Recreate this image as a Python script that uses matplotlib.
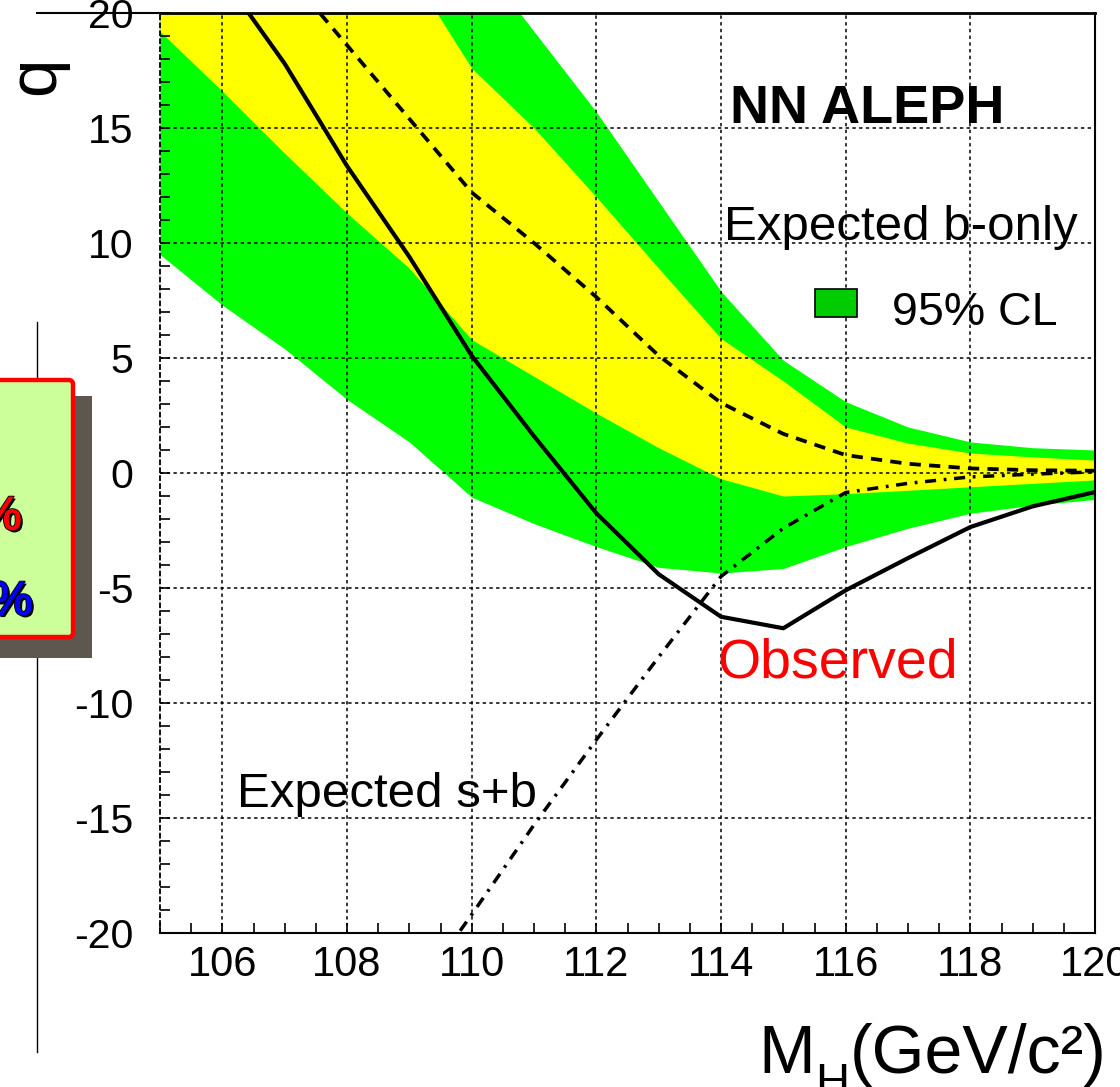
import matplotlib
matplotlib.use("Agg")
import matplotlib.pyplot as plt
import matplotlib.patheffects as pe
from matplotlib.patches import Rectangle, FancyBboxPatch
from matplotlib.lines import Line2D
from matplotlib.ticker import MultipleLocator

# ---- data: test statistic q versus Higgs mass ----
mass = [105, 106, 107, 108, 109, 110, 111, 112, 113, 114, 115, 116, 117, 118, 119, 120]
q_observed = [25.5, 21.6, 17.8, 13.35, 9.4, 5.1, 1.6, -1.75, -4.4, -6.25, -6.75,
              -5.1, -3.7, -2.35, -1.45, -0.83]
q_expected_b = [28.0, 25.0, 21.8, 18.6, 15.4, 12.2, 10.0, 7.65, 5.1, 3.05, 1.7,
                0.78, 0.4, 0.2, 0.12, 0.1]
mass_sb = [109, 110, 111, 112, 113, 114, 115, 116, 117, 118, 119, 120]
q_expected_sb = [-23.0, -19.2, -15.3, -11.6, -8.0, -4.5, -2.4, -0.85, -0.45,
                 -0.17, -0.05, 0.05]
band95_lo = [9.5, 7.3, 5.4, 3.2, 1.35, -1.05, -2.2, -3.2, -4.1, -4.35, -4.15,
             -3.2, -2.4, -1.75, -1.4, -1.15]
band95_hi = [36.0, 33.0, 30.0, 27.5, 25.0, 22.7, 19.2, 15.7, 11.8, 7.9, 4.9,
             3.1, 2.0, 1.35, 1.1, 1.0]
band68_lo = [19.2, 16.6, 13.9, 11.3, 8.9, 5.8, 4.2, 2.6, 1.1, -0.25, -1.0,
             -0.9, -0.75, -0.6, -0.45, -0.3]
band68_hi = [32.0, 29.5, 27.0, 24.5, 21.9, 17.6, 15.0, 12.0, 8.9, 5.85, 4.0,
             2.0, 1.3, 0.87, 0.7, 0.56]
x_ticks = [106, 108, 110, 112, 114, 116, 118, 120]
y_ticks = [-20, -15, -10, -5, 0, 5, 10, 15, 20]

W, H = 1120, 1087
plt.rcParams["font.family"] = ["Liberation Sans", "DejaVu Sans"]
plt.rcParams["axes.unicode_minus"] = False

fig = plt.figure(figsize=(W / 100, H / 100), dpi=100)


def fx(px):
    return px / W


def fy(py):
    return 1 - py / H


ax = fig.add_axes([fx(160), fy(933), fx(1095) - fx(160), fy(13) - fy(933)])

ax.fill_between(mass, band95_lo, band95_hi, color="#00ff00", lw=0, zorder=1)
ax.fill_between(mass, band68_lo, band68_hi, color="#ffff00", lw=0, zorder=1.1)

ax.plot(mass, q_expected_b, color="black", lw=2.7, ls=(0, (3.0, 2.2)), zorder=3)
ax.plot(mass_sb, q_expected_sb, color="black", lw=2.5,
        ls=(0, (3.2, 2.2, 0.8, 2.2)), zorder=3)
ax.plot(mass, q_observed, color="black", lw=3.0, zorder=3.2)

ax.set_xlim(105, 120)
ax.set_ylim(-20, 20)
ax.set_xticks(x_ticks)
ax.set_yticks(y_ticks)
ax.xaxis.set_minor_locator(MultipleLocator(0.5))
ax.yaxis.set_minor_locator(MultipleLocator(1))
ax.set_axisbelow(False)
ax.grid(True, which="major", color="black", ls=(0, (2.2, 2.2)), lw=1.1)
ax.tick_params(which="both", direction="in", length=7.5, width=1.2,
               top=False, right=False, colors="black")
ax.tick_params(axis="x", labelsize=30, pad=9)
ax.tick_params(axis="y", labelsize=29.5, pad=19)
for side in ("top", "bottom", "right"):
    ax.spines[side].set_linewidth(1.5)
ax.spines["top"].set_linewidth(2.0)
ax.spines["left"].set_linewidth(1.3)
ax.spines["left"].set_linestyle((0, (2.2, 2.2)))

# ---- annotations ----
fig.text(fx(730), fy(123), "NN ALEPH", fontsize=39, fontweight="bold",
         va="baseline", ha="left")
fig.text(fx(724), fy(240), "Expected b-only", fontsize=35.5, va="baseline",
         ha="left")
fig.add_artist(Rectangle((fx(815), fy(317)), fx(857) - fx(815), fy(289) - fy(317),
                         transform=fig.transFigure, facecolor="#00cc00",
                         edgecolor="black", lw=1.2))
fig.text(fx(892), fy(325), "95% CL", fontsize=33.5, va="baseline", ha="left")
fig.text(fx(717), fy(678), "Observed", fontsize=40, color="#ff0000",
         va="baseline", ha="left")
fig.text(fx(237), fy(807), "Expected s+b", fontsize=35.5, va="baseline",
         ha="left")
fig.text(fx(36), fy(76), "q", fontsize=50, rotation=90, ha="center",
         va="center")

# x-axis title assembled from pieces: M, subscript H, (GeV/c²)
renderer = fig.canvas.get_renderer()
unit = fig.text(fx(1107), fy(1073), "(GeV/c²)", fontsize=49, va="baseline",
                ha="right")
x_left = unit.get_window_extent(renderer).x0
sub = fig.text(x_left / W - 0.001, fy(1096), "H", fontsize=34, va="baseline",
               ha="right")
x_left = sub.get_window_extent(renderer).x0
fig.text(x_left / W, fy(1073), "M", fontsize=49, va="baseline", ha="right")

# ---- slide frame pieces on the left ----
fig.add_artist(Line2D([fx(37), fx(160)], [fy(13), fy(13)],
                      transform=fig.transFigure, color="black", lw=1.5))
fig.add_artist(Line2D([fx(37), fx(37)], [fy(322), fy(1052)],
                      transform=fig.transFigure, color="black", lw=1.0,
                      zorder=0.5))
fig.add_artist(Rectangle((fx(-20), fy(658)), fx(92) - fx(-20), fy(396) - fy(658),
                         transform=fig.transFigure, facecolor="#5e574f",
                         edgecolor="none", zorder=1))
fig.add_artist(FancyBboxPatch((fx(-20), fy(637)), fx(73) - fx(-20),
                              fy(380) - fy(637),
                              boxstyle="round,pad=0,rounding_size=0.004",
                              transform=fig.transFigure, facecolor="#ccff99",
                              edgecolor="#ff0000", lw=3.2, zorder=2))
shadow = [pe.withSimplePatchShadow(offset=(1.5, -1.5), shadow_rgbFace="black",
                                   alpha=1.0),
          pe.withStroke(linewidth=1.2, foreground="black")]
t1 = fig.text(fx(22), fy(530), "%", fontsize=35, fontweight="bold",
              color="#ff0000", ha="right", va="baseline", zorder=3)
t1.set_path_effects(shadow)
t2 = fig.text(fx(33), fy(615), "%", fontsize=35, fontweight="bold",
              color="#0000ff", ha="right", va="baseline", zorder=3)
t2.set_path_effects(shadow)

fig.savefig("out.png", dpi=100)
